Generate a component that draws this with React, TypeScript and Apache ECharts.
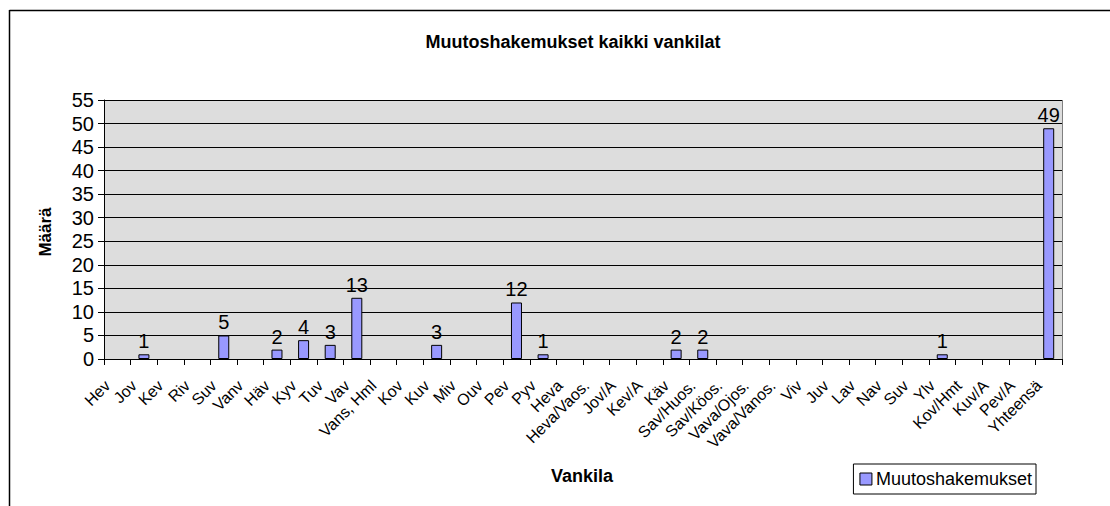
import React, { useEffect, useRef } from "react";
import * as echarts from "echarts";

const categories = [
  "Hev", "Jov", "Kev", "Riv", "Suv", "Vanv", "Häv", "Kyv", "Tuv", "Vav",
  "Vans, Hml", "Kov", "Kuv", "Miv", "Ouv", "Pev", "Pyv", "Heva", "Heva/Vaos.",
  "Jov/A", "Kev/A", "Käv", "Sav/Huos.", "Sav/Köos.", "Vava/Ojos.", "Vava/Vanos.",
  "Viv", "Juv", "Lav", "Nav", "Suv", "Ylv", "Kov/Hmt", "Kuv/A", "Pev/A", "Yhteensä",
];
const values = [
  0, 1, 0, 0, 5, 0, 2, 4, 3, 13,
  0, 0, 3, 0, 0, 12, 1, 0, 0,
  0, 0, 2, 2, 0, 0, 0,
  0, 0, 0, 0, 0, 1, 0, 0, 0, 49,
];
const seriesName = "Muutoshakemukset";
const title = "Muutoshakemukset kaikki vankilat";
const yName = "Määrä";
const xName = "Vankila";

const FONT = "'Liberation Sans', Arial, sans-serif";

export default function App() {
  const ref = useRef<HTMLDivElement>(null);
  useEffect(() => {
    const chart = echarts.init(ref.current!, null, { renderer: "svg" });
    chart.setOption({
      animation: false,
      backgroundColor: "#ffffff",
      title: {
        text: title,
        left: 568,
        top: 28,
        textAlign: "center",
        textStyle: { fontFamily: FONT, fontSize: 18, fontWeight: "bold", color: "#000" },
      },
      legend: {
        right: 74,
        top: 464,
        padding: [6, 4, 6, 6],
        backgroundColor: "#fff",
        borderColor: "#000",
        borderWidth: 1,
        borderRadius: 0,
        itemWidth: 12,
        itemHeight: 12,
        itemGap: 4,
        textStyle: { fontFamily: FONT, fontSize: 18, color: "#000", padding: [0, 0, 0, -1] },
        data: [{ name: seriesName, icon: "rect", itemStyle: { borderColor: "#000", borderWidth: 1 } }],
      },
      grid: { left: 104, top: 100, right: 48, bottom: 147, backgroundColor: "#dddddd", show: true, borderWidth: 0 },
      xAxis: {
        type: "category",
        data: categories,
        boundaryGap: true,
        axisLine: { lineStyle: { color: "#000", width: 1 } },
        axisTick: { show: true, interval: 0, length: 6, lineStyle: { color: "#000" } },
        axisLabel: {
          interval: 0,
          rotate: 45,
          margin: 14,
          padding: [0, 14, 0, 0],
          fontFamily: FONT,
          fontSize: 16,
          color: "#000",
        },
      },
      yAxis: {
        type: "value",
        min: 0,
        max: 55,
        interval: 5,
        axisLine: { show: true, lineStyle: { color: "#000", width: 1 } },
        axisTick: { show: true, length: 6, lineStyle: { color: "#000" } },
        axisLabel: { margin: 10, fontFamily: FONT, fontSize: 20, color: "#000" },
        splitLine: { show: true, lineStyle: { color: "#000", width: 1 } },
      },
      graphic: [
        {
          type: "line",
          shape: { x1: 9.5, y1: 10.5, x2: 1110, y2: 10.5 },
          style: { stroke: "#000", lineWidth: 1.5 },
          silent: true,
        },
        {
          type: "line",
          shape: { x1: 9.5, y1: 10, x2: 9.5, y2: 506 },
          style: { stroke: "#000", lineWidth: 1.5 },
          silent: true,
        },
        {
          type: "line",
          shape: { x1: 104, y1: 100.5, x2: 1062, y2: 100.5 },
          style: { stroke: "#808080", lineWidth: 1 },
          silent: true,
        },
        {
          type: "line",
          shape: { x1: 1062.5, y1: 100, x2: 1062.5, y2: 359 },
          style: { stroke: "#808080", lineWidth: 1 },
          silent: true,
        },
        {
          type: "text",
          x: 45,
          y: 232,
          rotation: Math.PI / 2,
          style: { text: yName, fontFamily: FONT, fontSize: 17, fontWeight: "bold", fill: "#000", textAlign: "center", textVerticalAlign: "middle" },
        },
        {
          type: "text",
          x: 582,
          y: 476,
          style: { text: xName, fontFamily: FONT, fontSize: 18, fontWeight: "bold", fill: "#000", textAlign: "center", textVerticalAlign: "middle" },
        },
      ],
      series: [
        {
          name: seriesName,
          type: "bar",
          data: values.map((v) => (v ? v : { value: v, itemStyle: { borderWidth: 0, opacity: 0 } })),
          barWidth: 11,
          itemStyle: { color: "#9999ff", borderColor: "#000", borderWidth: 1 },
          label: {
            show: true,
            position: "top",
            distance: 3,
            fontFamily: FONT,
            fontSize: 20,
            color: "#000",
            formatter: (p: any) => (p.value ? String(p.value) : ""),
          },
        },
      ],
    });
    return () => chart.dispose();
  }, []);
  return <div ref={ref} style={{ width: 1110, height: 506, position: "absolute", left: 0, top: 0 }} />;
}
